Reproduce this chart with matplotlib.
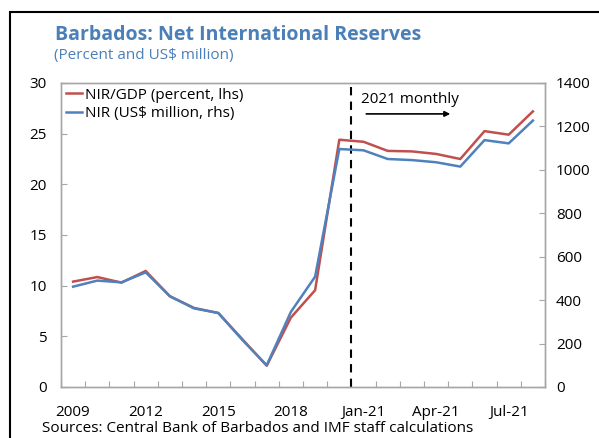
import matplotlib
matplotlib.use('Agg')
import matplotlib.pyplot as plt
from matplotlib.patches import Rectangle

plt.rcParams['font.family'] = ['Open Sans', 'DejaVu Sans']

# periods: 2009-2020 annual, then 2021 monthly
periods = ['2009', '2010', '2011', '2012', '2013', '2014', '2015', '2016',
           '2017', '2018', '2019', '2020',
           'Jan-21', 'Feb-21', 'Mar-21', 'Apr-21', 'May-21', 'Jun-21',
           'Jul-21', 'Aug-21']
nir_gdp = [10.4, 10.85, 10.3, 11.45, 8.95, 7.8, 7.3, 4.7, 2.1, 6.85, 9.55,
           24.4, 24.2, 23.3, 23.25, 23.0, 22.5, 25.25, 24.9, 27.2]
nir_usd = [462, 490, 482, 528, 418, 362, 341, 216, 100, 346, 508,
           1096, 1090, 1050, 1045, 1035, 1015, 1137, 1122, 1227]
tick_labels = ['2009', '', '', '2012', '', '', '2015', '', '', '2018', '',
               '', 'Jan-21', '', '', 'Apr-21', '', '', 'Jul-21', '']

red = '#C0504D'
blue = '#4F81BD'
title_col = '#4A7FB8'
W, H = 599, 438

fig = plt.figure(figsize=(W / 100, H / 100), dpi=100)

def px(x, y):
    return x / W, 1 - y / H

# outer frame
fig.patches.append(Rectangle(px(10, 460), (620 - 10) / W, (460 - 12) / H,
                             transform=fig.transFigure, fill=False,
                             edgecolor='black', lw=1.5))

ax = fig.add_axes([61 / W, (H - 387) / H, (545 - 61) / W, (387 - 83) / H])
ax2 = ax.twinx()

x = list(range(len(periods)))
l1, = ax.plot(x, nir_gdp, color=red, lw=1.8, label='NIR/GDP (percent, lhs)')
l2, = ax2.plot(x, nir_usd, color=blue, lw=1.8, label='NIR (US$ million, rhs)')

ax.set_xlim(-0.5, len(periods) - 0.5)
ax.set_ylim(0, 30)
ax2.set_ylim(0, 1400)
ax.set_yticks(range(0, 31, 5))
ax2.set_yticks(range(0, 1401, 200))

# ticks at category boundaries, labels at category centres
ax.set_xticks([i - 0.5 for i in range(len(periods) + 1)])
ax.set_xticklabels([])
ax.set_xticks(x, minor=True)
ax.set_xticklabels(tick_labels, minor=True)
ax.tick_params(axis='x', which='major', direction='in', length=4,
               color='#A6A6A6')
ax.tick_params(axis='x', which='minor', length=0, labelsize=11, pad=13)
ax.tick_params(axis='y', direction='in', length=4, color='#A6A6A6',
               labelsize=11, pad=10)
ax2.tick_params(axis='y', direction='in', length=4, color='#A6A6A6',
                labelsize=11, pad=8)
for a in (ax, ax2):
    for s in a.spines.values():
        s.set_color('#A6A6A6')
        s.set_linewidth(1.0)

ax.axvline(11.5, color='black', lw=1.5, ls=(0, (4, 3)))
ax.text(11.9, 28.4, '2021 monthly', fontsize=11, va='center', ha='left')
ax.annotate('', xy=(15.7, 26.95), xytext=(12.0, 26.95),
            arrowprops=dict(arrowstyle='-|>', color='black', lw=1.2,
                            mutation_scale=8))

ax.legend(handles=[l1, l2], loc='upper left', frameon=False, fontsize=11,
          handlelength=1.1, handletextpad=0.2, borderaxespad=0.1,
          labelspacing=0.25, borderpad=0.2)

fig.text(*px(55, 40), 'Barbados: Net International Reserves', fontsize=14,
         fontweight='bold', color=title_col, va='baseline', ha='left')
fig.text(*px(54, 56), '(Percent and US$ million)', fontsize=11,
         color=title_col, va='center', ha='left')
fig.text(*px(42, 429), 'Sources: Central Bank of Barbados and IMF staff calculations',
         fontsize=11, va='center', ha='left')

fig.savefig('out.png', dpi=100)
